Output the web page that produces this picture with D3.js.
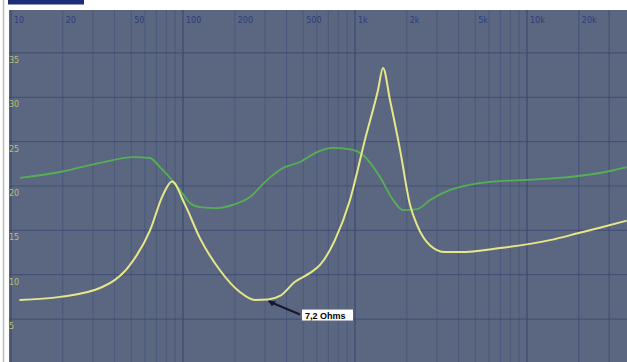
<!DOCTYPE html>
<html><head><meta charset="utf-8">
<script src="https://cdn.jsdelivr.net/npm/d3@7"></script>
<style>html,body{margin:0;padding:0;background:#fff;overflow:hidden}svg{display:block}</style>
</head><body><svg id="c" width="627" height="362"></svg>
<script>
// Frequency ticks (Hz) and labels along the top
const freqTicks = [10, 20, 50, 100, 200, 500, 1000, 2000, 5000, 10000, 20000];
const freqLabels = ["10", "20", "50", "100", "200", "500", "1k", "2k", "5k", "10k", "20k"];
// Impedance axis ticks (Ohms)
const ohmTicks = [5, 10, 15, 20, 25, 30, 35];
// Impedance magnitude curve (yellow)
const impFreq = [11.2, 19.3, 32.9, 49.2, 64.3, 76.5, 86.3, 102.7, 125.6, 164, 214, 262, 312, 366, 448, 548, 626, 764, 934, 1142, 1360, 1455, 1597, 1829, 2087, 2296, 2735, 3335, 4067, 6950, 13600, 20000, 26500, 38000];
const impOhm  = [7.15, 7.5, 8.5, 11.1, 15.0, 19.0, 20.5, 17.9, 14.1, 10.5, 8.05, 7.15, 7.2, 7.6, 9.2, 10.2, 11.1, 13.9, 18.4, 25.2, 30.8, 33.3, 29.7, 24.05, 17.9, 15.6, 13.3, 12.55, 12.55, 13.0, 13.9, 14.7, 15.3, 16.1];
// Phase curve (green), degrees
const phFreq = [11.3, 19.3, 32.9, 51.2, 64.3, 73.5, 86.3, 96.1, 109.8, 125.6, 157.6, 195, 245, 308, 381, 479, 602, 745, 974, 1112, 1397, 1665, 1903, 2296, 2735, 3569, 5328, 9087, 15500, 26500, 38000];
const phDeg  = [4.1, 7.1, 11.7, 14.7, 14.2, 9.6, 3.0, -2.0, -8.6, -10.7, -11.2, -9.6, -5.6, 3.0, 9.1, 12.2, 17.2, 19.3, 18.3, 15.7, 4.6, -7.1, -12.2, -11.7, -7.1, -2.0, 1.5, 3.0, 4.1, 6.6, 9.6];
// Annotation
const annotFreq = 312, annotOhm = 7.2, annotText = "7,2 Ohms";

const svg = d3.select("#c");
const plot = {x0: 9, y0: 10, x1: 627, y1: 362};

const x = d3.scaleLog().domain([10, 20000]).range([11, 578.8]);
const y = d3.scaleLinear().domain([0, 40]).range([363.4, 8.6]);
const yPh = d3.scaleLinear().domain([-90, 90]).range([363.4, 8.6]);

// left frame strip
svg.append("line").attr("x1", 3.5).attr("x2", 3.5).attr("y1", 0).attr("y2", 362)
  .attr("stroke", "#b8bcc4").attr("stroke-width", 1.5);
// top navy tab
svg.append("rect").attr("x", 8).attr("y", 0).attr("width", 76).attr("height", 4.5).attr("fill", "#1c2c78");

svg.append("defs").append("clipPath").attr("id", "clip").append("rect")
  .attr("x", plot.x0).attr("y", plot.y0).attr("width", plot.x1 - plot.x0).attr("height", plot.y1 - plot.y0);

const g = svg.append("g").attr("clip-path", "url(#clip)");
g.append("rect").attr("x", plot.x0).attr("y", plot.y0).attr("width", plot.x1 - plot.x0).attr("height", plot.y1 - plot.y0)
  .attr("fill", "#5b6780");

// vertical grid lines (1..9 per decade)
const gridF = [];
for (let d = 10; d <= 10000; d *= 10) for (let k = 1; k <= 9; k++) gridF.push(d * k);
gridF.push(20000, 30000);
g.selectAll("line.vg").data(gridF).join("line").attr("class", "vg")
  .attr("x1", d => x(d)).attr("x2", d => x(d)).attr("y1", plot.y0).attr("y2", plot.y1)
  .attr("stroke", d => (Math.log10(d) % 1 === 0) ? "#38466e" : "#46547a")
  .attr("stroke-width", d => (Math.log10(d) % 1 === 0) ? 1.4 : 1).attr("opacity", 0.75);
// horizontal grid lines
g.selectAll("line.hg").data(ohmTicks).join("line").attr("class", "hg")
  .attr("x1", plot.x0).attr("x2", plot.x1).attr("y1", d => y(d)).attr("y2", d => y(d))
  .attr("stroke", "#3e4a70").attr("stroke-width", 1.2).attr("opacity", 0.75);

// top frequency labels
g.selectAll("text.fl").data(freqTicks).join("text").attr("class", "fl")
  .attr("x", d => x(d) + 3).attr("y", 23).text((d, i) => freqLabels[i])
  .attr("font-family", "DejaVu Sans, sans-serif").attr("font-size", 8).attr("fill", "#2c3c7c");
// left ohm labels
g.selectAll("text.ol").data(ohmTicks).join("text").attr("class", "ol")
  .attr("x", 9).attr("y", d => y(d) + 10).text(d => d)
  .attr("font-family", "DejaVu Sans, sans-serif").attr("font-size", 8).attr("fill", "#b8c070");

// phase curve
const phData = phFreq.map((f, i) => [f, phDeg[i]]);
g.append("path").datum(phData)
  .attr("d", d3.line().x(d => x(d[0])).y(d => yPh(d[1])).curve(d3.curveMonotoneX))
  .attr("fill", "none").attr("stroke", "#55b053").attr("stroke-width", 1.8);

// impedance curve
const impData = impFreq.map((f, i) => [f, impOhm[i]]);
g.append("path").datum(impData)
  .attr("d", d3.line().x(d => x(d[0])).y(d => y(d[1])).curve(d3.curveMonotoneX))
  .attr("fill", "none").attr("stroke", "#e6e888").attr("stroke-width", 2);

// annotation
const ax = x(annotFreq), ay = y(annotOhm);
g.append("line").attr("x1", ax + 1).attr("y1", ay + 2).attr("x2", ax + 32).attr("y2", ay + 15)
  .attr("stroke", "#141830").attr("stroke-width", 2);
g.append("path").attr("d", `M${ax},${ay+1} l8,1 l-4,5 z`).attr("fill", "#141830");
const lbl = g.append("g").attr("transform", `translate(${ax + 34},${ay + 10})`);
lbl.append("rect").attr("x", 0).attr("y", 0).attr("width", 51).attr("height", 11).attr("fill", "#ffffff");
lbl.append("text").attr("x", 3).attr("y", 9).text(annotText)
  .attr("font-family", "Liberation Sans, Arial, sans-serif").attr("font-weight", "bold")
  .attr("font-size", 9).attr("fill", "#000");
</script></body></html>
